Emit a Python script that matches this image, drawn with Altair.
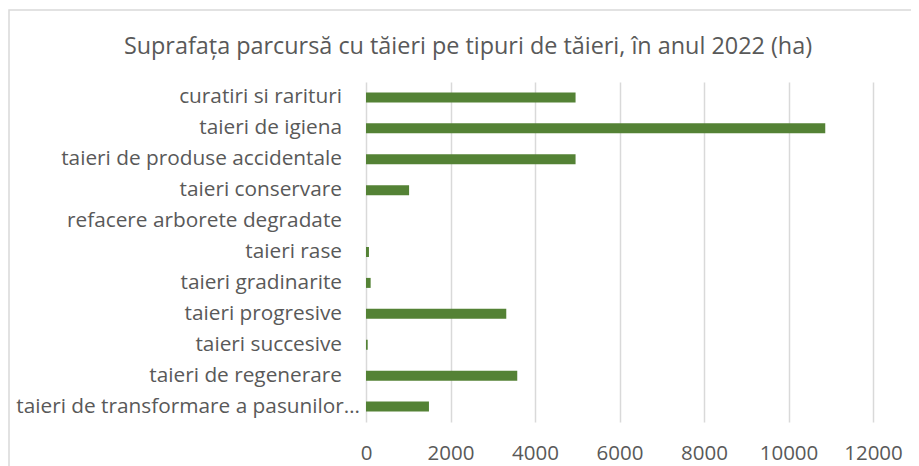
import altair as alt
import pandas as pd

categories = [
    "curatiri si rarituri",
    "taieri de igiena",
    "taieri de produse accidentale",
    "taieri conservare",
    "refacere arborete degradate",
    "taieri rase",
    "taieri gradinarite",
    "taieri progresive",
    "taieri succesive",
    "taieri de regenerare",
    "taieri de transformare a pasunilor…",
]
values = [4960, 10870, 4960, 1020, 0, 70, 110, 3320, 40, 3580, 1490]
x_ticks = [0, 2000, 4000, 6000, 8000, 10000, 12000]
title_text = "Suprafața parcursă cu tăieri pe tipuri de tăieri, în anul 2022 (ha)"

df = pd.DataFrame({"cat": categories, "val": values})

FONT = "Open Sans"
GREY = "#595959"
LAST = categories[-1]

ysc = alt.Y("cat:N", sort=categories, axis=None,
            scale=alt.Scale(paddingInner=0, paddingOuter=0))

bars = alt.Chart(df).mark_bar(color="#548235", size=10).encode(
    x=alt.X("val:Q", scale=alt.Scale(domain=[0, 12000], nice=False),
            axis=alt.Axis(values=x_ticks, title=None, domain=False, ticks=False,
                          grid=True, gridColor="#d9d9d9", gridWidth=1.5,
                          format="d", labelOverlap=False, labelFlush=False,
                          labelFont=FONT, labelFontSize=20.5, labelColor=GREY,
                          labelPadding=21)),
    y=ysc,
)

labels_main = alt.Chart(df).transform_filter(
    alt.datum.cat != LAST
).mark_text(font=FONT, fontSize=20.8, color=GREY, align="right",
            baseline="middle").encode(
    y=ysc, x=alt.value(-24), text="cat:N")

labels_last = alt.Chart(df).transform_filter(
    alt.datum.cat == LAST
).mark_text(font=FONT, fontSize=20.8, color=GREY, align="right",
            baseline="middle").encode(
    y=ysc, x=alt.value(-6), text="cat:N")

title = alt.Chart(pd.DataFrame({"t": [title_text]})).mark_text(
    font=FONT, fontSize=23.4, color=GREY, align="center", baseline="alphabetic"
).encode(text="t:N", x=alt.value(102), y=alt.value(-28))

border = alt.Chart(pd.DataFrame({"a": [0]})).mark_rect(
    fill=None, stroke="#d9d9d9", strokeWidth=1.5
).encode(x=alt.value(-357), x2=alt.value(700), y=alt.value(-72), y2=alt.value(500))

chart = alt.layer(border, bars, labels_main, labels_last, title).properties(
    width=507, height=340,
    padding={"left": 358, "top": 74, "right": 38, "bottom": 44},
    autosize=alt.AutoSizeParams(type="none"),
).configure_view(stroke=None)

chart.save("out.html", embed_options={"renderer": "svg", "actions": False})
